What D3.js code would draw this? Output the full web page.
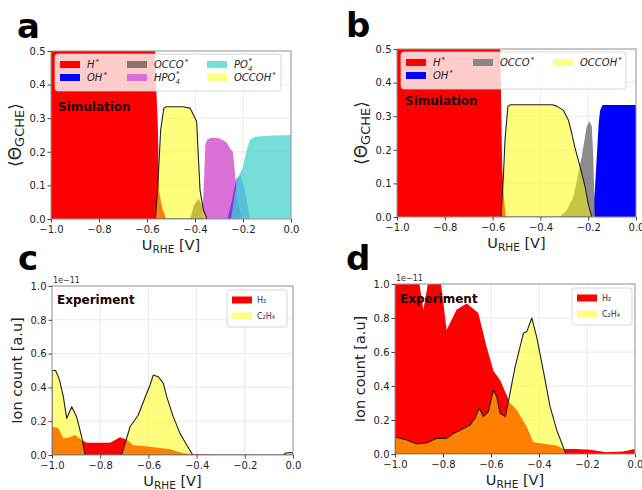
<!DOCTYPE html>
<html>
<head>
<meta charset="utf-8">
<script src="https://cdn.jsdelivr.net/npm/d3@7"></script>
<style>
  body { margin: 0; background: #fff; }
  svg { display: block; }
  text { font-family: "DejaVu Sans", sans-serif; }
</style>
</head>
<body>
<svg id="chart" width="642" height="490"></svg>
<script>
// ---- Ticks ----
const xTicks = [-1.0, -0.8, -0.6, -0.4, -0.2, 0.0];
const simYTicks = [0.0, 0.1, 0.2, 0.3, 0.4, 0.5];
const expYTicks = [0.0, 0.2, 0.4, 0.6, 0.8, 1.0];

// ---- Panel a (simulation, phosphate) : [U_RHE, coverage] ----
const aH = [[-1.0, 1.0], [-0.575, 1.0], [-0.565, 0.45], [-0.555, 0.28], [-0.55, 0.08], [-0.535, 0.03], [-0.52, 0]];
const aOH = [[-0.265, 0], [-0.245, 0.06], [-0.228, 0.12], [-0.21, 0.13], [-0.19, 0.08], [-0.17, 0]];
const aOCCO = [[-0.42, 0], [-0.405, 0.04], [-0.385, 0.06], [-0.37, 0.04], [-0.355, 0.01], [-0.345, 0]];
const aHPO4 = [[-0.37, 0], [-0.362, 0.12], [-0.357, 0.22], [-0.35, 0.236], [-0.335, 0.242], [-0.3, 0.24],
  [-0.285, 0.235], [-0.268, 0.228], [-0.254, 0.21], [-0.242, 0.2], [-0.234, 0.14], [-0.222, 0.05], [-0.205, 0]];
const aPO4 = [[-0.25, 0], [-0.235, 0.07], [-0.22, 0.125], [-0.2, 0.155], [-0.185, 0.205], [-0.172, 0.235],
  [-0.15, 0.245], [-0.1, 0.248], [0.0, 0.25]];
const aOCCOH = [[-0.565, 0], [-0.555, 0.1], [-0.543, 0.265], [-0.53, 0.33], [-0.52, 0.334], [-0.45, 0.334],
  [-0.42, 0.33], [-0.407, 0.31], [-0.393, 0.29], [-0.386, 0.185], [-0.379, 0.086], [-0.365, 0.027], [-0.35, 0]];

// ---- Panel b (simulation) ----
const bH = [[-1.0, 1.0], [-0.575, 1.0], [-0.568, 0.5], [-0.56, 0.15], [-0.553, 0.06], [-0.545, 0]];
const bOH = [[-0.182, 0], [-0.172, 0.08], [-0.164, 0.18], [-0.156, 0.28], [-0.15, 0.318], [-0.14, 0.333], [0.0, 0.333]];
const bOCCO = [[-0.32, 0], [-0.29, 0.02], [-0.262, 0.06], [-0.241, 0.13], [-0.227, 0.18], [-0.206, 0.27],
  [-0.195, 0.285], [-0.185, 0.27], [-0.179, 0.18], [-0.172, 0]];
const bOCCOH = [[-0.565, 0], [-0.555, 0.12], [-0.548, 0.23], [-0.536, 0.33], [-0.525, 0.334], [-0.35, 0.334],
  [-0.332, 0.33], [-0.304, 0.318], [-0.283, 0.289], [-0.269, 0.25], [-0.255, 0.205], [-0.234, 0.15],
  [-0.213, 0.09], [-0.2, 0.04], [-0.185, 0]];

// ---- Panel c (experiment, ion count x1e-11) ----
const cH2 = [[-1.0, 0.167], [-0.974, 0.16], [-0.953, 0.099], [-0.925, 0.105], [-0.905, 0.118], [-0.877, 0.089],
  [-0.856, 0.073], [-0.759, 0.073], [-0.718, 0.105], [-0.69, 0.09], [-0.663, 0.059], [-0.593, 0.049],
  [-0.51, 0.034], [-0.455, 0.01], [-0.4, 0.004], [-0.3, 0.002], [0.0, 0.0]];
const cC2H4 = [[-1.0, 0.5], [-0.985, 0.5], [-0.97, 0.45], [-0.953, 0.345], [-0.939, 0.217], [-0.918, 0.286],
  [-0.898, 0.227], [-0.877, 0.108], [-0.863, 0], [-0.711, 0], [-0.676, 0.167], [-0.642, 0.237],
  [-0.607, 0.365], [-0.593, 0.414], [-0.58, 0.473], [-0.559, 0.463], [-0.538, 0.424], [-0.524, 0.345],
  [-0.497, 0.227], [-0.469, 0.128], [-0.441, 0.059], [-0.416, 0], [-0.04, 0], [-0.03, 0.012],
  [-0.01, 0.015], [0.0, 0.01]];

// ---- Panel d (experiment) ----
const dH2 = [[-1.0, 1.05], [-0.903, 1.05], [-0.882, 0.847], [-0.857, 1.05], [-0.8125, 1.05], [-0.785, 0.73],
  [-0.743, 0.85], [-0.701, 0.886], [-0.653, 0.83], [-0.618, 0.63], [-0.59, 0.49], [-0.5625, 0.435],
  [-0.535, 0.347], [-0.521, 0.3], [-0.493, 0.26], [-0.451, 0.16], [-0.424, 0.07], [-0.382, 0.06],
  [-0.326, 0.05], [-0.299, 0.03], [-0.243, 0.03], [-0.1875, 0.025], [-0.118, 0.01], [-0.05, 0.015], [0.0, 0.03]];
const dC2H4 = [[-1.0, 0.1], [-0.951, 0.082], [-0.91, 0.059], [-0.868, 0.065], [-0.826, 0.092], [-0.785, 0.092],
  [-0.757, 0.12], [-0.729, 0.14], [-0.6875, 0.17], [-0.667, 0.21], [-0.649, 0.27], [-0.632, 0.22],
  [-0.611, 0.25], [-0.59, 0.376], [-0.576, 0.337], [-0.5625, 0.24], [-0.54, 0.22], [-0.521, 0.357],
  [-0.5, 0.51], [-0.479, 0.63], [-0.465, 0.71], [-0.451, 0.72], [-0.43, 0.8], [-0.41, 0.69],
  [-0.382, 0.49], [-0.354, 0.28], [-0.326, 0.14], [-0.305, 0.063], [-0.29, 0.005], [-0.28, 0], [0.0, 0]];

// ---- Legend labels ----
const simLabelsA = ["H", "OH", "OCCO", "HPO4", "PO4", "OCCOH"];
const simLabelsB = ["H", "OH", "OCCO", "OCCOH"];
const expLabels = ["H₂", "C₂H₄"];

const svg = d3.select("#chart");

const style = {
  H: { fill: "#ff0000", op: 1 },
  OH: { fill: "#0000ff", op: 1 },
  OH_a: { fill: "#0000ff", op: 0.45 },
  OCCO_a: { fill: "#7d6a64", op: 0.9 },
  OCCO_b: { fill: "#808080", op: 0.9 },
  HPO4: { fill: "#da70d6", op: 1 },
  PO4: { fill: "#48d1cc", op: 0.75 },
  OCCOH: { fill: "#ffff00", op: 0.5, stroke: "#222" },
};

const panels = [
  {
    letter: "a", box: [51, 51, 291, 219], yMax: 0.5, yTicks: simYTicks, sim: true,
    series: [[aH, style.H], [aOCCO, style.OCCO_a], [aHPO4, style.HPO4], [aOH, style.OH_a], [aPO4, style.PO4], [aOCCOH, style.OCCOH]],
    legend: [[simLabelsA[0], style.H], [simLabelsA[1], style.OH], [simLabelsA[2], style.OCCO_a],
             [simLabelsA[3], style.HPO4], [simLabelsA[4], style.PO4], [simLabelsA[5], style.OCCOH]],
    note: "Simulation", notePos: [7, 60], letterPos: [17, 38],
  },
  {
    letter: "b", box: [397, 49, 636, 217], yMax: 0.5, yTicks: simYTicks, sim: true,
    series: [[bH, style.H], [bOH, style.OH], [bOCCO, style.OCCO_b], [bOCCOH, style.OCCOH]],
    legend: [[simLabelsB[0], style.H], [simLabelsB[1], style.OH], [simLabelsB[2], style.OCCO_b], null, [simLabelsB[3], style.OCCOH]],
    note: "Simulation", notePos: [8, 56], letterPos: [346, 37],
  },
  {
    letter: "c", box: [52, 286, 293, 455], yMax: 1.0, yTicks: expYTicks, sim: false,
    series: [[cH2, style.H], [cC2H4, style.OCCOH]],
    legend: [[expLabels[0], style.H], [expLabels[1], style.OCCOH]], legendRight: 6,
    note: "Experiment", notePos: [5, 18], letterPos: [18, 270],
  },
  {
    letter: "d", box: [395, 284, 635, 454], yMax: 1.0, yTicks: expYTicks, sim: false,
    series: [[dH2, style.H], [dC2H4, style.OCCOH]],
    legend: [[expLabels[0], style.H], [expLabels[1], style.OCCOH]], legendRight: 3,
    note: "Experiment", notePos: [5, 19], letterPos: [346, 270],
  },
];

// Write an italic adsorbate label with superscript star (and subscript 4 for phosphates)
const writeSimLabel = (txt, label) => {
  const base = label.replace("4", "");
  txt.append("tspan").text(base);
  if (label.endsWith("4")) {
    txt.append("tspan").attr("font-size", 7).attr("dy", 3).text("4");
    txt.append("tspan").attr("font-size", 7).attr("dx", -4).attr("dy", -8).text("*");
  } else {
    txt.append("tspan").attr("font-size", 7).attr("dx", 1).attr("dy", -4).text("*");
  }
};

const drawPanel = (p) => {
  const [x0, y0, x1, y1] = p.box;
  const x = d3.scaleLinear().domain([-1, 0]).range([x0, x1]);
  const y = d3.scaleLinear().domain([0, p.yMax]).range([y1, y0]);
  const g = svg.append("g");

  // Clip
  const clipId = "clip-" + p.letter;
  svg.append("clipPath").attr("id", clipId)
    .append("rect").attr("x", x0).attr("y", y0).attr("width", x1 - x0).attr("height", y1 - y0);

  // Grid
  g.append("g").selectAll("line").data(xTicks).join("line")
    .attr("x1", (d) => x(d)).attr("x2", (d) => x(d)).attr("y1", y0).attr("y2", y1)
    .attr("stroke", "#e4e4e4").attr("stroke-width", 0.8);
  g.append("g").selectAll("line").data(p.yTicks).join("line")
    .attr("x1", x0).attr("x2", x1).attr("y1", (d) => y(d)).attr("y2", (d) => y(d))
    .attr("stroke", "#e4e4e4").attr("stroke-width", 0.8);

  // Areas
  const area = d3.area().x((d) => x(d[0])).y0(y(0)).y1((d) => y(d[1]));
  const plot = g.append("g").attr("clip-path", `url(#${clipId})`);
  p.series.forEach(([data, s]) => {
    plot.append("path")
      .attr("d", area(data))
      .attr("fill", s.fill)
      .attr("fill-opacity", s.op)
      .attr("stroke", s.stroke || "none")
      .attr("stroke-width", s.stroke ? 1.1 : 0)
      .attr("stroke-linejoin", "round");
  });

  // Frame
  g.append("rect").attr("x", x0).attr("y", y0).attr("width", x1 - x0).attr("height", y1 - y0)
    .attr("fill", "none").attr("stroke", "#9a9a9a").attr("stroke-width", 1);

  // Axes
  const fmt = d3.format(".1f");
  const xAxis = g.append("g").attr("transform", `translate(0,${y1})`)
    .call(d3.axisBottom(x).tickValues(xTicks).tickFormat(fmt).tickSize(3.5).tickPadding(3));
  const yAxis = g.append("g").attr("transform", `translate(${x0},0)`)
    .call(d3.axisLeft(y).tickValues(p.yTicks).tickFormat(fmt).tickSize(3.5).tickPadding(2));
  [xAxis, yAxis].forEach((a) => {
    a.select(".domain").remove();
    a.selectAll("line").attr("stroke", "#444");
    a.selectAll("text").attr("font-size", 10).attr("fill", "#222")
      .attr("font-family", "DejaVu Sans, sans-serif");
  });

  // X label
  const xl = g.append("text").attr("x", (x0 + x1) / 2).attr("y", y1 + 31)
    .attr("text-anchor", "middle").attr("font-size", 14.5).attr("fill", "#222");
  xl.append("tspan").text("U");
  xl.append("tspan").attr("font-size", 10.5).attr("dy", 3).text("RHE");
  xl.append("tspan").attr("dy", -3).text(" [V]");

  // Y label
  if (p.sim) {
    const yl = g.append("text")
      .attr("transform", `translate(${x0 - 30},${(y0 + y1) / 2}) rotate(-90)`)
      .attr("text-anchor", "middle").attr("font-size", 17).attr("fill", "#222");
    yl.append("tspan").text("⟨Θ");
    yl.append("tspan").attr("font-size", 13).attr("dy", 3).text("GCHE");
    yl.append("tspan").attr("dy", -3).text("⟩");
  } else {
    g.append("text")
      .attr("transform", `translate(${x0 - 30},${(y0 + y1) / 2}) rotate(-90)`)
      .attr("text-anchor", "middle").attr("font-size", 14.5).attr("fill", "#222")
      .text("Ion count [a.u]");
    g.append("text").attr("x", x0 + 1).attr("y", y0 - 3)
      .attr("font-size", 8).attr("fill", "#333").text("1e−11");
  }

  // Legend
  if (p.sim) {
    const lx = x0 + 4, ly = y0 + 3, lw = x1 - x0 - 14;
    const lh = p.legend.length > 4 ? 37 : 34;
    g.append("rect").attr("x", lx).attr("y", ly).attr("width", lw).attr("height", lh).attr("rx", 3)
      .attr("fill", "#fff").attr("fill-opacity", 0.8).attr("stroke", "#ccc").attr("stroke-width", 0.8);
    const colX = [5, 72, 152];
    p.legend.forEach((item, i) => {
      if (!item) return;
      const col = Math.floor(i / 2), row = i % 2;
      const sx = lx + colX[col], sy = ly + 10.5 + row * 13;
      g.append("rect").attr("x", sx).attr("y", sy - 3.5).attr("width", 20).attr("height", 7)
        .attr("fill", item[1].fill).attr("fill-opacity", item[1].op);
      const t = g.append("text").attr("x", sx + 27).attr("y", sy + 3.5)
        .attr("font-size", 10).attr("font-style", "italic").attr("fill", "#222");
      writeSimLabel(t, item[0]);
    });
  } else {
    const lw = 60, lh = 37;
    const lx = x1 - p.legendRight - lw, ly = y0 + 4;
    g.append("rect").attr("x", lx).attr("y", ly).attr("width", lw).attr("height", lh).attr("rx", 3)
      .attr("fill", "#fff").attr("fill-opacity", 0.8).attr("stroke", "#ccc").attr("stroke-width", 0.8);
    p.legend.forEach((item, i) => {
      const sy = ly + 10 + i * 16;
      g.append("rect").attr("x", lx + 5).attr("y", sy - 3.5).attr("width", 20).attr("height", 7)
        .attr("fill", item[1].fill).attr("fill-opacity", item[1].op);
      g.append("text").attr("x", lx + 30).attr("y", sy + 3).attr("font-size", 8).attr("fill", "#333")
        .text(item[0]);
    });
  }

  // Annotation
  g.append("text").attr("x", x0 + p.notePos[0]).attr("y", y0 + p.notePos[1])
    .attr("font-size", 12).attr("font-weight", "bold").attr("fill", "#1a0000").text(p.note);

  // Panel letter
  svg.append("text").attr("x", p.letterPos[0]).attr("y", p.letterPos[1])
    .attr("font-family", "Liberation Sans, Arial, sans-serif").attr("font-weight", "bold")
    .attr("font-size", 34).attr("fill", "#000").text(p.letter);
};

panels.forEach(drawPanel);
</script>
</body>
</html>
